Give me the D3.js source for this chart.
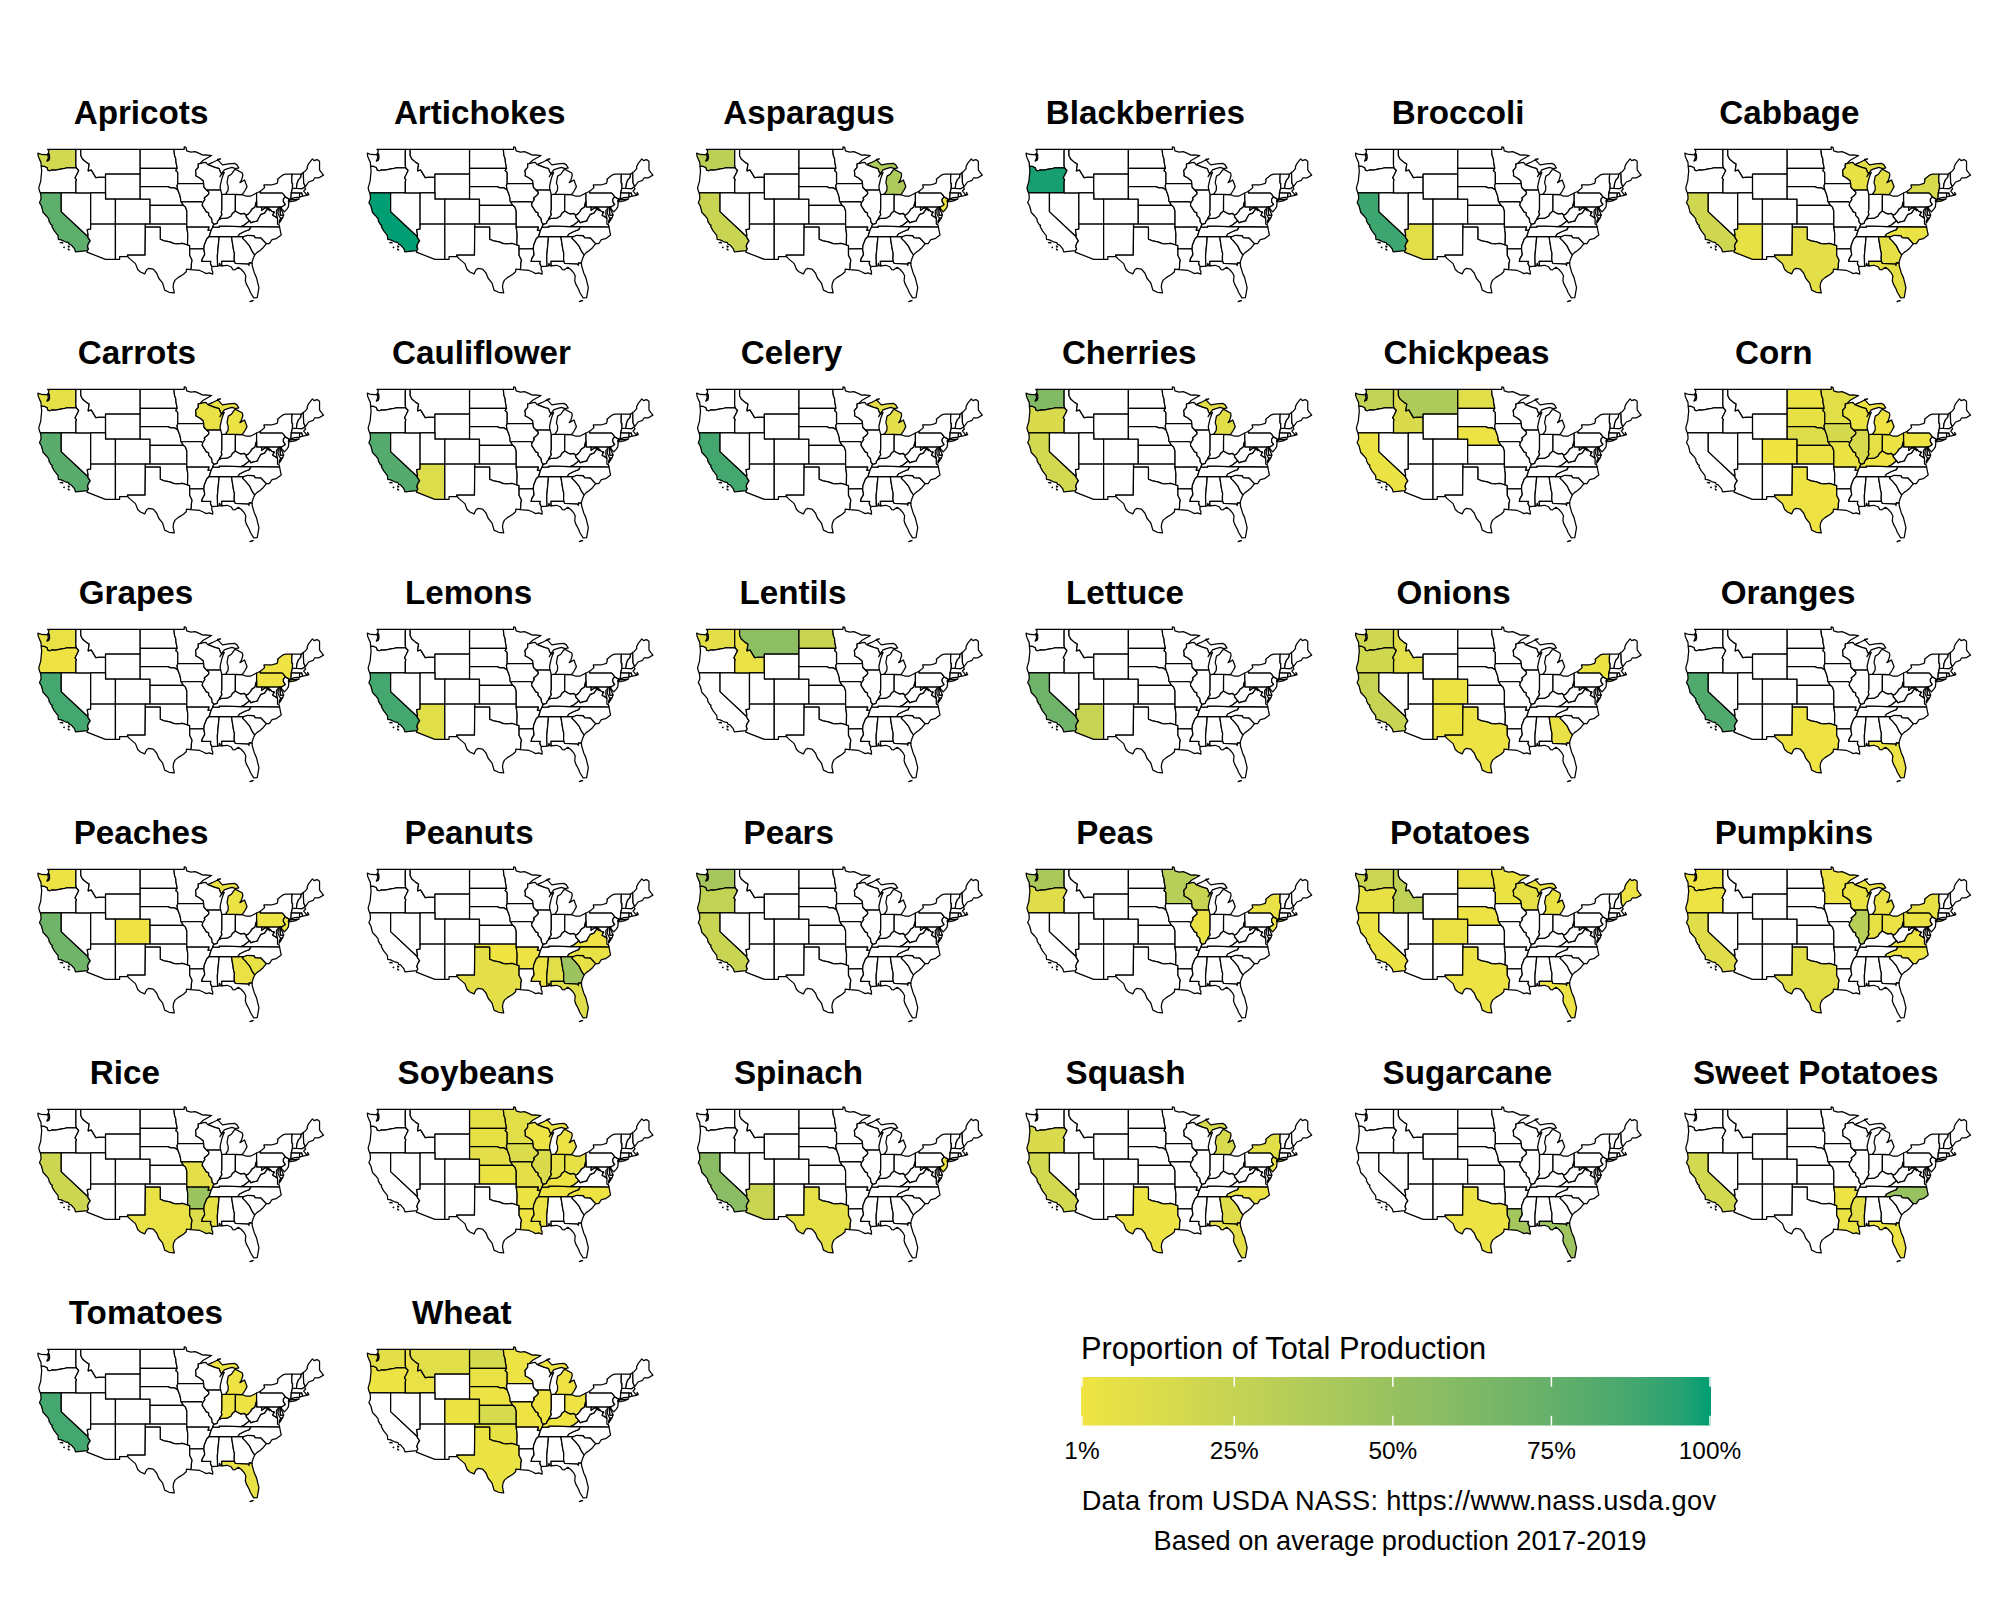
<!DOCTYPE html>
<html>
<head>
<meta charset="utf-8">
<script src="https://cdn.jsdelivr.net/npm/d3@7"></script>
<style>
  html, body { margin: 0; background: #fff; }
  text { font-family: "Liberation Sans", Arial, sans-serif; fill: #000; }
</style>
</head>
<body>
<svg id="chart" width="2000" height="1600"></svg>
<script>
// share of national production per crop (percent)
const apricots = [["CA", 78], ["WA", 18]];
const artichokes = [["CA", 100]];
const asparagus = [["WA", 30], ["CA", 23], ["MI", 38], ["NJ", 3]];
const blackberries = [["OR", 98]];
const broccoli = [["CA", 90], ["AZ", 9]];
const cabbage = [["CA", 20], ["AZ", 6], ["TX", 8], ["WI", 6], ["MI", 8], ["NY", 15], ["NC", 4], ["GA", 7], ["FL", 7]];
const carrots = [["CA", 80], ["WA", 7], ["WI", 5], ["MI", 4]];
const cauliflower = [["CA", 82], ["AZ", 12]];
const celery = [["CA", 88], ["MI", 8]];
const cherries = [["WA", 62], ["OR", 14], ["CA", 18], ["MI", 9]];
const chickpeas = [["WA", 27], ["MT", 38], ["ID", 14], ["ND", 10], ["NE", 3], ["CA", 4]];
const corn = [["IA", 17], ["IL", 15], ["NE", 12], ["MN", 9], ["IN", 7], ["SD", 6], ["KS", 5], ["OH", 4], ["WI", 4], ["MO", 4], ["ND", 4], ["MI", 2], ["KY", 2], ["TX", 2], ["CO", 1], ["PA", 2]];
const grapes = [["CA", 88], ["WA", 5], ["OR", 2], ["NY", 2], ["PA", 2]];
const lemons = [["CA", 88], ["AZ", 10]];
const lentils = [["MT", 55], ["ND", 24], ["WA", 8], ["ID", 5]];
const lettuce = [["CA", 71], ["AZ", 25]];
const onions = [["WA", 20], ["OR", 19], ["ID", 10], ["CA", 25], ["NY", 4], ["CO", 3], ["NM", 4], ["TX", 3], ["GA", 5]];
const oranges = [["CA", 83], ["TX", 2], ["FL", 3]];
const peaches = [["CA", 70], ["WA", 3], ["CO", 2], ["MI", 4], ["PA", 3], ["NJ", 4], ["GA", 5], ["SC", 6]];
const peanuts = [["GA", 48], ["FL", 11], ["AL", 10], ["TX", 8], ["SC", 6], ["NC", 6], ["MS", 3], ["AR", 3], ["OK", 1], ["VA", 2]];
const pears = [["WA", 42], ["OR", 27], ["CA", 24]];
const peas = [["WA", 40], ["MN", 33], ["WI", 24], ["OR", 11], ["IL", 5], ["NY", 5], ["NJ", 3]];
const potatoes = [["ID", 29], ["WA", 22], ["OR", 6], ["ND", 5], ["WI", 7], ["MI", 4], ["MN", 4], ["CA", 4], ["CO", 5], ["TX", 3], ["NE", 3], ["FL", 3], ["ME", 3]];
const pumpkins = [["IL", 33], ["CA", 11], ["TX", 9], ["IN", 6], ["OH", 5], ["MI", 5], ["WI", 4], ["PA", 4], ["NY", 6], ["VA", 3], ["NC", 3], ["OR", 3], ["WA", 3], ["MN", 3]];
const rice = [["AR", 48], ["CA", 21], ["LA", 12], ["MO", 8], ["MS", 6], ["TX", 5]];
const soybeans = [["IL", 14], ["IA", 13], ["MN", 9], ["IN", 7], ["NE", 8], ["MO", 8], ["ND", 7], ["SD", 6], ["OH", 6], ["KS", 4], ["AR", 4], ["MS", 3], ["MI", 3], ["WI", 3], ["KY", 2], ["TN", 2], ["NC", 2], ["LA", 2]];
const spinach = [["CA", 58], ["AZ", 24], ["TX", 7], ["NJ", 3]];
const squash = [["CA", 18], ["OR", 14], ["MI", 15], ["NY", 9], ["GA", 11], ["FL", 8], ["TX", 3], ["NC", 5], ["NJ", 5]];
const sugarcane = [["FL", 47], ["LA", 44], ["TX", 3]];
const sweetPotatoes = [["NC", 50], ["CA", 18], ["MS", 8], ["LA", 4], ["AR", 3], ["FL", 3]];
const tomatoes = [["CA", 88], ["FL", 5], ["IN", 3], ["OH", 3], ["MI", 2]];
const wheat = [["ND", 17], ["KS", 16], ["MT", 10], ["WA", 8], ["OK", 6], ["SD", 5], ["ID", 5], ["TX", 4], ["CO", 4], ["NE", 3], ["OR", 3], ["MN", 3], ["IL", 2], ["MO", 2], ["MI", 2], ["OH", 2], ["KY", 1]];

const cropNames = ["Apricots", "Artichokes", "Asparagus", "Blackberries", "Broccoli", "Cabbage", "Carrots", "Cauliflower", "Celery", "Cherries", "Chickpeas", "Corn", "Grapes", "Lemons", "Lentils", "Lettuce", "Onions", "Oranges", "Peaches", "Peanuts", "Pears", "Peas", "Potatoes", "Pumpkins", "Rice", "Soybeans", "Spinach", "Squash", "Sugarcane", "Sweet Potatoes", "Tomatoes", "Wheat"];
const cropShares = [apricots, artichokes, asparagus, blackberries, broccoli, cabbage, carrots, cauliflower, celery, cherries, chickpeas, corn, grapes, lemons, lentils, lettuce, onions, oranges, peaches, peanuts, pears, peas, potatoes, pumpkins, rice, soybeans, spinach, squash, sugarcane, sweetPotatoes, tomatoes, wheat];

const legendTicks = [1, 25, 50, 75, 100];
const legendLabels = ["1%", "25%", "50%", "75%", "100%"];

// state borders as shared lon/lat arcs, so neighbouring states always agree
const arcs = {
  wa_n: [[-122.76,49],[-117.03,49]],
  wa_id: [[-117.03,49],[-117.04,46.42],[-116.92,46]],
  wa_or: [[-124.05,46.27],[-123.5,46.27],[-123.2,46.15],[-122.9,46.08],[-122.8,45.85],[-122.75,45.65],[-122.3,45.55],[-121.9,45.68],[-121.2,45.65],[-120.65,45.73],[-119.9,45.84],[-119.3,45.93],[-118.98,46],[-116.92,46]],
  wa_coast: [[-124.05,46.27],[-124.1,46.9],[-124.35,47.3],[-124.65,47.9],[-124.72,48.38],[-124,48.17],[-123.2,48.15],[-122.7,48.1],[-122.6,47.6],[-122.9,47.1],[-122.5,47.25],[-122.35,47.6],[-122.4,48.2],[-122.6,48.4],[-122.5,48.75],[-122.76,49]],
  or_coast: [[-124.05,46.27],[-123.95,45.5],[-124.07,44.6],[-124.15,43.9],[-124.4,43.2],[-124.55,42.84],[-124.4,42.3],[-124.21,42]],
  or_s: [[-124.21,42],[-120,42]],
  or_nv: [[-120,42],[-117.03,42]],
  or_id: [[-116.92,46],[-116.46,45.6],[-116.85,44.95],[-117.2,44.43],[-117.03,44.25],[-116.93,44.1],[-117.03,43.83],[-117.03,42]],
  ca_coast: [[-124.21,42],[-124.1,41.5],[-124.1,41],[-124.4,40.44],[-124,39.9],[-123.8,39.3],[-123.7,38.9],[-123,38.3],[-122.5,37.8],[-122.5,37.5],[-122.1,36.95],[-121.8,36.8],[-121.9,36.6],[-121.4,35.9],[-120.65,35.15],[-120.6,34.55],[-120,34.45],[-119.2,34.15],[-118.5,34.03],[-118.4,33.75],[-118,33.65],[-117.3,33],[-117.12,32.53]],
  ca_s: [[-117.12,32.53],[-114.72,32.72]],
  ca_az: [[-114.72,32.72],[-114.5,33],[-114.7,33.4],[-114.5,33.9],[-114.14,34.3],[-114.6,34.87],[-114.63,35]],
  ca_nv: [[-114.63,35],[-120,39],[-120,42]],
  id_nv: [[-117.03,42],[-114.05,42]],
  ut_nv: [[-114.05,42],[-114.05,37]],
  az_nv: [[-114.05,37],[-114.05,36.2],[-114.74,36.1],[-114.57,35.2],[-114.63,35]],
  id_n: [[-117.03,49],[-116.05,49]],
  id_mt: [[-116.05,49],[-116.05,48],[-115.7,47.45],[-114.9,46.9],[-114.35,46.65],[-114.55,45.55],[-113.95,45.7],[-113.45,45.05],[-113,44.45],[-112.3,44.55],[-111.5,44.55],[-111.05,44.5]],
  id_wy: [[-111.05,44.5],[-111.05,42]],
  id_ut: [[-111.05,42],[-114.05,42]],
  mt_n: [[-116.05,49],[-104.05,49]],
  mt_nd: [[-104.05,49],[-104.05,45.94]],
  mt_sd: [[-104.05,45.94],[-104.05,45]],
  mt_wy: [[-104.05,45],[-111.05,45],[-111.05,44.5]],
  wy_sd: [[-104.05,45],[-104.05,43]],
  wy_ne: [[-104.05,43],[-104.05,41]],
  wy_co: [[-104.05,41],[-109.05,41]],
  wy_ut: [[-109.05,41],[-111.05,41],[-111.05,42]],
  ut_az: [[-114.05,37],[-109.05,37]],
  ut_co: [[-109.05,37],[-109.05,41]],
  az_nm: [[-109.05,37],[-109.05,31.33]],
  az_s: [[-109.05,31.33],[-111.07,31.33],[-114.81,32.5],[-114.72,32.72]],
  co_ne: [[-104.05,41],[-102.05,41],[-102.05,40]],
  co_ks: [[-102.05,40],[-102.05,37]],
  co_ok: [[-102.05,37],[-103,37]],
  co_nm: [[-103,37],[-109.05,37]],
  nm_ok: [[-103,37],[-103,36.5]],
  nm_tx: [[-103,36.5],[-103.06,32],[-106.62,32],[-106.53,31.78]],
  nm_s: [[-106.53,31.78],[-108.2,31.78],[-108.2,31.33],[-109.05,31.33]],
  nd_n: [[-104.05,49],[-97.23,49]],
  nd_mn: [[-97.23,49],[-97.1,48],[-96.85,47.5],[-96.8,46.9],[-96.56,45.94]],
  nd_sd: [[-96.56,45.94],[-104.05,45.94]],
  sd_mn: [[-96.56,45.94],[-96.85,45.6],[-96.45,45.3],[-96.45,43.5]],
  sd_ia: [[-96.45,43.5],[-96.6,43.1],[-96.45,42.49]],
  sd_ne: [[-96.45,42.49],[-96.7,42.6],[-97.2,42.85],[-97.9,42.8],[-98.5,43],[-104.05,43]],
  ne_ia: [[-96.45,42.49],[-96.1,41.8],[-95.9,41.2],[-95.85,40.7],[-95.77,40.58]],
  ne_mo: [[-95.77,40.58],[-95.3,40]],
  ne_ks: [[-95.3,40],[-102.05,40]],
  ks_mo: [[-95.3,40],[-94.9,39.75],[-94.62,39.1],[-94.62,37]],
  ks_ok: [[-94.62,37],[-102.05,37]],
  ok_mo: [[-94.62,37],[-94.62,36.5]],
  ok_ar: [[-94.62,36.5],[-94.43,35.4],[-94.48,33.64]],
  ok_tx: [[-94.48,33.64],[-95.5,33.9],[-96.5,33.8],[-97.2,33.85],[-98.1,34.13],[-99.2,34.3],[-100,34.56],[-100,36.5],[-103,36.5]],
  tx_ar: [[-94.48,33.64],[-94.04,33.55],[-94.04,33.02]],
  tx_la: [[-94.04,33.02],[-94.04,32],[-93.55,31.2],[-93.7,30.6],[-93.7,30],[-93.84,29.7]],
  tx_coast: [[-93.84,29.7],[-94.7,29.75],[-94.75,29.35],[-95.3,28.95],[-96.4,28.4],[-97,28],[-97.3,27.5],[-97.4,26.9],[-97.15,25.96],[-98.2,26.05],[-99.1,26.4],[-99.5,27.5],[-100.3,28.3],[-100.7,29.1],[-101.4,29.77],[-102.3,29.88],[-102.7,29.7],[-103.15,29],[-104,29.3],[-104.55,29.7],[-105,30.65],[-106.2,31.45],[-106.53,31.78]],
  mn_n: [[-97.23,49],[-95.15,49],[-95.15,49.38],[-94.8,49.3],[-94.65,48.75],[-93.8,48.55],[-92.95,48.62],[-92,48.3],[-91.4,48.07],[-90.75,48.1],[-89.6,48],[-90.5,47.6],[-91.3,47.25],[-92,46.7]],
  mn_wi: [[-92,46.7],[-92.3,46.65],[-92.3,46.1],[-92.85,45.6],[-92.75,45],[-92.8,44.75],[-92,44.4],[-91.3,43.95],[-91.22,43.5]],
  ia_mn: [[-96.45,43.5],[-91.22,43.5]],
  ia_wi: [[-91.22,43.5],[-91.15,42.9],[-90.65,42.5]],
  ia_il: [[-90.65,42.5],[-90.15,42.1],[-90.2,41.8],[-90.6,41.5],[-91.1,41.2],[-90.95,40.95],[-91.42,40.38]],
  ia_mo: [[-91.42,40.38],[-91.7,40.6],[-95.77,40.58]],
  il_mo: [[-91.42,40.38],[-91.5,40],[-91,39.4],[-90.7,39],[-90.2,38.8],[-90.2,38.4],[-89.6,37.9],[-89.5,37.3],[-89.15,37]],
  mo_ky: [[-89.15,37],[-89.4,36.5]],
  mo_tn: [[-89.4,36.5],[-89.7,36]],
  mo_ar: [[-89.7,36],[-90.37,36],[-90.15,36.5],[-94.62,36.5]],
  ar_tn: [[-89.7,36],[-90.1,35]],
  ar_ms: [[-90.1,35],[-90.6,34.6],[-91.1,33.6],[-91.17,33]],
  ar_la: [[-91.17,33],[-94.04,33.02]],
  la_ms: [[-91.17,33],[-91.1,32.6],[-91,32.1],[-91.5,31.4],[-91.6,31],[-89.75,31],[-89.85,30.65],[-89.55,30.18]],
  la_coast: [[-89.55,30.18],[-89.6,29.7],[-89.4,29.4],[-89.4,28.95],[-90.1,29.15],[-90.7,29.05],[-91.3,29.3],[-92,29.55],[-92.6,29.6],[-93.84,29.7]],
  ms_tn: [[-90.1,35],[-88.2,35]],
  ms_al: [[-88.2,35],[-88.1,34.9],[-88.45,31.9],[-88.4,30.25]],
  ms_coast: [[-88.4,30.25],[-89.55,30.18]],
  al_tn: [[-88.2,35],[-85.6,34.98]],
  al_ga: [[-85.6,34.98],[-85.18,32.85],[-85,32.3],[-85.05,31.5],[-85,31]],
  al_fl: [[-85,31],[-87.6,31],[-87.52,30.28]],
  al_coast: [[-87.52,30.28],[-87.8,30.3],[-88,30.7],[-88.1,30.3],[-88.4,30.25]],
  ga_tn: [[-85.6,34.98],[-84.32,34.99]],
  ga_nc: [[-84.32,34.99],[-83.11,35]],
  ga_sc: [[-83.11,35],[-83.35,34.7],[-82.8,34.3],[-81.95,33.5],[-81.4,32.6],[-80.9,32.05]],
  ga_coast: [[-80.9,32.05],[-81.15,31.6],[-81.4,31],[-81.45,30.72]],
  ga_fl: [[-85,31],[-84.86,30.7],[-82.2,30.57],[-82.05,30.35],[-82,30.75],[-81.45,30.72]],
  fl_coast: [[-81.45,30.72],[-81.4,30.3],[-81,29.2],[-80.55,28.4],[-80.05,26.8],[-80.4,25.2],[-81.1,25.15],[-81.8,26.05],[-82,26.5],[-82.6,27.4],[-82.8,27.9],[-82.7,28.7],[-83,29.15],[-83.6,29.7],[-84.2,30.05],[-84.9,29.65],[-85.3,29.68],[-85.7,30.15],[-86.5,30.38],[-87.52,30.28]],
  sc_nc: [[-83.11,35],[-82.4,35.2],[-81.05,35.15],[-80.8,34.82],[-79.67,34.8],[-78.55,33.86]],
  sc_coast: [[-78.55,33.86],[-79.2,33.2],[-79.9,32.7],[-80.4,32.45],[-80.9,32.05]],
  tn_nc: [[-84.32,34.99],[-84,35.4],[-83,35.8],[-82,36.1],[-81.68,36.59]],
  nc_va: [[-81.68,36.59],[-75.87,36.55]],
  nc_coast: [[-75.87,36.55],[-75.75,36],[-75.55,35.25],[-76.55,34.65],[-77.4,34.5],[-77.95,33.87],[-78.55,33.86]],
  ky_tn: [[-89.4,36.5],[-88.05,36.5],[-88.07,36.68],[-86.5,36.65],[-83.68,36.6]],
  tn_va: [[-83.68,36.6],[-81.68,36.59]],
  il_ky: [[-88.05,37.8],[-88.45,37.4],[-88.5,37.1],[-89.15,37]],
  in_ky: [[-84.82,39.1],[-85.4,38.75],[-85.7,38.3],[-86.3,38],[-87,37.9],[-87.6,37.9],[-88.05,37.8]],
  oh_ky: [[-84.82,39.1],[-84.2,38.8],[-83.7,38.63],[-83,38.73],[-82.6,38.42]],
  wv_ky: [[-81.97,37.54],[-82.6,38.17],[-82.6,38.42]],
  ky_va: [[-83.68,36.6],[-83,36.85],[-82.3,37.3],[-81.97,37.54]],
  il_wi: [[-90.65,42.5],[-87.8,42.5]],
  il_lake: [[-87.8,42.5],[-87.53,41.72]],
  il_in: [[-87.53,41.72],[-87.53,39.35],[-87.65,38.9],[-87.5,38.5],[-87.95,38],[-88.05,37.8]],
  in_lake: [[-87.53,41.72],[-87.2,41.75],[-86.82,41.76]],
  in_mi: [[-86.82,41.76],[-84.8,41.76]],
  in_oh: [[-84.8,41.76],[-84.82,39.1]],
  oh_mi: [[-84.8,41.76],[-83.45,41.73]],
  oh_lake: [[-83.45,41.73],[-82.7,41.5],[-81.7,41.5],[-80.52,41.98]],
  oh_pa: [[-80.52,41.98],[-80.52,40.64]],
  oh_wv: [[-80.52,40.64],[-80.65,40.4],[-80.85,39.7],[-81.45,39.4],[-81.75,39],[-82.2,38.6],[-82.6,38.42]],
  mi_coast: [[-86.82,41.76],[-86.3,42.4],[-86.25,43],[-86.5,43.65],[-86.25,44.7],[-85.6,45],[-85,45.7],[-84.75,45.78],[-83.4,45.2],[-83.3,44.8],[-83.6,44],[-83.9,43.65],[-82.95,44.07],[-82.45,43],[-82.9,42.35],[-83.15,42.05],[-83.45,41.73]],
  wi_s: [[-92,46.7],[-91.2,46.87],[-90.75,46.9],[-90.4,46.55]],
  wi_mi: [[-90.4,46.55],[-89.1,46.13],[-88.1,45.9],[-87.85,45.35],[-87.6,45.1]],
  wi_lake: [[-87.6,45.1],[-87.95,44.6],[-87.7,44.9],[-87.05,45.3],[-87.5,44.4],[-87.7,43.75],[-87.9,43],[-87.8,42.5]],
  mi_up: [[-87.6,45.1],[-87.05,45.7],[-86.5,45.85],[-85.5,46.1],[-84.75,45.9],[-84.1,46],[-84.5,46.5],[-85,46.75],[-86.2,46.65],[-87.4,46.5],[-87.9,46.9],[-88.4,47.4],[-87.8,47.47],[-88.6,47.2],[-89.5,46.85],[-90.4,46.55]],
  pa_lake: [[-80.52,41.98],[-79.76,42.27]],
  pa_ny: [[-79.76,42.27],[-79.76,42],[-75.35,42],[-75.05,41.75],[-74.7,41.36]],
  pa_nj: [[-74.7,41.36],[-75.1,41],[-75.1,40.6],[-74.72,40.15],[-75.1,39.9],[-75.42,39.81]],
  pa_de: [[-75.42,39.81],[-75.79,39.72]],
  pa_md: [[-75.79,39.72],[-79.48,39.72]],
  pa_wv: [[-79.48,39.72],[-80.52,39.72],[-80.52,40.64]],
  wv_md: [[-79.48,39.72],[-79.48,39.2],[-78.8,39.6],[-78.3,39.62],[-77.72,39.32]],
  wv_va: [[-77.72,39.32],[-77.83,39.13],[-78.35,39.4],[-78.9,38.75],[-79.7,38.5],[-80.3,37.65],[-80.3,37.5],[-81.3,37.3],[-81.68,37.2],[-81.97,37.54]],
  va_md: [[-76.3,37.95],[-76.95,38.3],[-77.25,38.4],[-77.04,38.79],[-77.12,38.93],[-77.5,39.1],[-77.72,39.32]],
  va_coast: [[-75.87,36.55],[-76,36.92],[-76.3,37],[-76.3,37.55],[-76.3,37.95]],
  de_md: [[-75.79,39.72],[-75.7,38.45],[-75.05,38.45]],
  md_bay: [[-75.05,38.45],[-75.25,38.03],[-75.65,37.95],[-75.9,38.2],[-76.2,38.7],[-76.15,39.2],[-76.1,39.55],[-76.5,39.2],[-76.5,38.5],[-76.35,38.1],[-76.3,37.95]],
  de_coast: [[-75.05,38.45],[-75.4,39.1],[-75.55,39.5],[-75.42,39.81]],
  nj_ny: [[-74.7,41.36],[-73.9,41],[-74.1,40.65]],
  nj_coast: [[-74.1,40.65],[-74,40.45],[-74.1,39.75],[-74.4,39.4],[-74.9,38.95],[-75.3,39.3],[-75.5,39.5],[-75.42,39.81]],
  ny_lake: [[-79.76,42.27],[-78.9,42.85],[-79.05,43.27],[-77.5,43.27],[-76.4,43.52],[-76.2,44],[-76.3,44.2],[-75.3,44.85],[-74.7,45],[-73.35,45.01]],
  ny_vt: [[-73.35,45.01],[-73.4,44.5],[-73.4,43.6],[-73.25,43.55],[-73.27,42.75]],
  ny_ma: [[-73.27,42.75],[-73.5,42.05]],
  ny_ct: [[-73.5,42.05],[-73.55,41.3],[-73.65,41]],
  ny_s: [[-73.65,41],[-73.9,40.8],[-74.1,40.65]],
  ct_ma: [[-73.5,42.05],[-71.8,42.02]],
  ct_ri: [[-71.8,42.02],[-71.85,41.32]],
  ct_coast: [[-71.85,41.32],[-72.9,41.25],[-73.65,41]],
  ri_ma: [[-71.8,42.02],[-71.38,42.02],[-71.2,41.5]],
  ri_coast: [[-71.2,41.5],[-71.85,41.32]],
  ma_vt: [[-73.27,42.75],[-72.46,42.73]],
  ma_nh: [[-72.46,42.73],[-71.3,42.7],[-71,42.87],[-70.82,42.87]],
  ma_coast: [[-70.82,42.87],[-70.6,42.65],[-71,42.3],[-70.65,41.95],[-70.5,41.78],[-70,41.8],[-70.2,42.07],[-69.95,41.7],[-70.6,41.55],[-71.15,41.5],[-71.2,41.5]],
  vt_can: [[-73.35,45.01],[-71.5,45.01]],
  vt_nh: [[-71.5,45.01],[-71.6,44.5],[-72.05,44.1],[-72.35,43.5],[-72.46,42.73]],
  nh_n: [[-71.5,45.01],[-71.08,45.3]],
  nh_me: [[-71.08,45.3],[-71,43.6],[-70.7,43.07]],
  nh_coast: [[-70.7,43.07],[-70.82,42.87]],
  me_out: [[-71.08,45.3],[-70.8,45.4],[-70.25,45.95],[-70.3,46.2],[-70,46.7],[-69.23,47.46],[-68.9,47.18],[-68.3,47.35],[-67.8,47.07],[-67.8,45.7],[-67.45,45.3],[-67,44.85],[-68,44.4],[-68.8,44.4],[-69.1,44],[-70,43.75],[-70.6,43.1],[-70.7,43.07]]
};

// islands that belong to a state but share no border
const islands = {
  CA: [[[-120.2,34],[-119.9,34.05],[-119.7,33.97]], [[-119.5,33.25],[-119.4,33.3],[-119.4,33.2]], [[-118.6,33.45],[-118.35,33.35],[-118.5,33.3]], [[-118.6,33],[-118.35,32.85],[-118.5,32.85]]],
  FL: [[[-81.85,24.55],[-81.2,24.7],[-81.6,24.65]]],
  MI: [[[-90.4,46.55],[-89.1,46.13],[-88.1,45.9],[-87.85,45.35],[-87.6,45.1]].concat(arcs.mi_up.slice(1, -1))],
  NY: [[[-74.03,40.6],[-73.6,40.58],[-72.8,40.72],[-71.9,41.05],[-72.6,40.98],[-73.2,40.92],[-73.75,40.83]]],
  VA: [[[-75.65,37.95],[-75.25,38.03],[-75.95,37.15],[-75.95,37.5]]],
  WA: [[[-122.75,48.3],[-122.5,48.1],[-122.55,48.3]]]
};

// "-name" means the arc runs backwards in this ring
const stateRings = {
  WA: ["wa_n","wa_id","-wa_or","wa_coast"],
  OR: ["wa_or","or_id","-or_nv","-or_s","-or_coast"],
  CA: ["ca_coast","ca_s","ca_az","ca_nv","-or_s"],
  NV: ["ca_nv","or_nv","id_nv","ut_nv","az_nv"],
  ID: ["id_n","id_mt","id_wy","id_ut","-id_nv","-or_id","-wa_id"],
  MT: ["mt_n","mt_nd","mt_sd","mt_wy","-id_mt"],
  WY: ["-mt_wy","wy_sd","wy_ne","wy_co","wy_ut","-id_wy"],
  UT: ["id_ut","ut_nv","ut_az","ut_co","wy_ut"],
  AZ: ["ut_az","az_nm","az_s","ca_az","-az_nv"],
  CO: ["-wy_co","co_ne","co_ks","co_ok","co_nm","-ut_co"],
  NM: ["-co_nm","nm_ok","nm_tx","nm_s","-az_nm"],
  ND: ["nd_n","nd_mn","nd_sd","-mt_nd"],
  SD: ["-nd_sd","sd_mn","sd_ia","sd_ne","-wy_sd","-mt_sd"],
  NE: ["-sd_ne","ne_ia","ne_mo","ne_ks","-co_ne","-wy_ne"],
  KS: ["-ne_ks","ks_mo","ks_ok","-co_ks"],
  OK: ["-ks_ok","ok_mo","ok_ar","ok_tx","-nm_ok","-co_ok"],
  TX: ["-ok_tx","tx_ar","tx_la","tx_coast","-nm_tx"],
  MN: ["mn_n","mn_wi","-ia_mn","-sd_mn","-nd_mn"],
  IA: ["ia_mn","ia_wi","ia_il","ia_mo","-ne_ia","-sd_ia"],
  MO: ["-ia_mo","il_mo","mo_ky","mo_tn","mo_ar","-ok_mo","-ks_mo","-ne_mo"],
  AR: ["-mo_ar","ar_tn","ar_ms","ar_la","-tx_ar","-ok_ar"],
  LA: ["-ar_la","la_ms","la_coast","-tx_la"],
  MS: ["-ar_ms","ms_tn","ms_al","ms_coast","-la_ms"],
  AL: ["al_tn","al_ga","al_fl","al_coast","-ms_al"],
  GA: ["ga_tn","ga_nc","ga_sc","ga_coast","-ga_fl","-al_ga"],
  FL: ["ga_fl","fl_coast","-al_fl"],
  SC: ["sc_nc","sc_coast","-ga_sc"],
  NC: ["tn_nc","nc_va","nc_coast","-sc_nc","-ga_nc"],
  TN: ["ky_tn","tn_va","-tn_nc","-ga_tn","-al_tn","-ms_tn","-ar_tn","-mo_tn"],
  KY: ["-mo_ky","-il_ky","-in_ky","oh_ky","-wv_ky","-ky_va","-ky_tn"],
  IL: ["il_wi","il_lake","il_in","il_ky","-il_mo","-ia_il"],
  IN: ["in_lake","in_mi","in_oh","in_ky","-il_in"],
  OH: ["oh_mi","oh_lake","oh_pa","oh_wv","-oh_ky","-in_oh"],
  MI: ["mi_coast","-oh_mi","-in_mi"],
  WI: ["wi_s","wi_mi","wi_lake","-il_wi","-ia_wi","-mn_wi"],
  PA: ["pa_lake","pa_ny","pa_nj","pa_de","pa_md","pa_wv","-oh_pa"],
  WV: ["-pa_wv","wv_md","wv_va","wv_ky","-oh_wv"],
  VA: ["va_md","wv_va","-ky_va","tn_va","nc_va","va_coast"],
  MD: ["-wv_md","-pa_md","de_md","md_bay","va_md"],
  DE: ["de_md","de_coast","pa_de"],
  NJ: ["-pa_nj","nj_ny","nj_coast"],
  NY: ["ny_lake","ny_vt","ny_ma","ny_ct","ny_s","-nj_ny","-pa_ny"],
  CT: ["ct_ma","ct_ri","ct_coast","-ny_ct"],
  RI: ["ri_ma","ri_coast","-ct_ri"],
  MA: ["ma_vt","ma_nh","ma_coast","-ri_ma","-ct_ma","-ny_ma"],
  VT: ["vt_can","vt_nh","-ma_vt","-ny_vt"],
  NH: ["nh_n","nh_me","nh_coast","-ma_nh","-vt_nh"],
  ME: ["me_out","-nh_me"]
};
const dcRing = [[-77.04,38.79],[-76.91,38.89],[-77.04,39],[-77.12,38.93]];

function buildRing(parts) {
  let ring = [];
  parts.forEach(function (p) {
    const back = p[0] === "-";
    const pts = arcs[back ? p.slice(1) : p];
    ring = ring.concat(back ? pts.slice().reverse() : pts);
  });
  return ring;
}

const states = Object.keys(stateRings).map(function (id) {
  return { id: id, rings: [buildRing(stateRings[id])].concat(islands[id] || []) };
});
states.push({ id: "DC", rings: [dcRing] });

const mapWidth = 285.5, mapHeight = 149.5;
const x = d3.scaleLinear().domain([-124.7, -67]).range([0, mapWidth]);
const y = d3.scaleLinear().domain([49, 25]).range([0, mapHeight]);
const line = d3.line().x(function (d) { return x(d[0]); }).y(function (d) { return y(d[1]); }).curve(d3.curveLinearClosed);

const fillScale = d3.scaleLinear().domain([1, 100]).range(["#F0E442", "#009E73"]).interpolate(d3.interpolateLab);

const svg = d3.select("#chart");
svg.append("rect").attr("width", 2000).attr("height", 1600).attr("fill", "#fff");

const colX = d3.scaleLinear().domain([0, 5]).range([38, 1685]);
const rowY = d3.scaleLinear().domain([0, 5]).range([149.3, 1349.3]);

// one small map per crop
cropNames.forEach(function (name, i) {
  const shares = new Map(cropShares[i]);
  const panel = svg.append("g")
    .attr("transform", "translate(" + colX(i % 6) + "," + rowY(Math.floor(i / 6)) + ")");

  panel.selectAll("path")
    .data(states)
    .enter()
    .append("path")
    .attr("d", function (d) { return d.rings.map(line).join(""); })
    .attr("fill", function (d) { return shares.has(d.id) ? fillScale(shares.get(d.id)) : "#fff"; })
    .attr("stroke", "#000")
    .attr("stroke-width", 1.25)
    .attr("stroke-linejoin", "round");

  const title = panel.append("text")
    .attr("y", -25)
    .attr("font-size", 33.2)
    .attr("font-weight", "bold")
    .text(name);
  // title sits a quarter of the way across the panel
  title.attr("x", 0.25 * (mapWidth - title.node().getComputedTextLength()) - 2);
});

// legend
const legendX = d3.scaleLinear().domain([1, 100]).range([1082, 1710]);
const legendTop = 1377, legendHeight = 48.5, tickLen = 9.7;

const gradient = svg.append("defs").append("linearGradient").attr("id", "legendFill");
d3.range(0, 1.001, 0.05).forEach(function (t) {
  gradient.append("stop")
    .attr("offset", t)
    .attr("stop-color", fillScale(1 + t * 99));
});

svg.append("rect")
  .attr("x", legendX(1) - 1)
  .attr("y", legendTop)
  .attr("width", legendX(100) - legendX(1) + 2)
  .attr("height", legendHeight)
  .attr("fill", "url(#legendFill)");

legendTicks.forEach(function (t, i) {
  [legendTop, legendTop + legendHeight - tickLen].forEach(function (y0) {
    svg.append("line")
      .attr("x1", legendX(t)).attr("x2", legendX(t))
      .attr("y1", y0).attr("y2", y0 + tickLen)
      .attr("stroke", "#fff")
      .attr("stroke-width", 1.5);
  });
  svg.append("text")
    .attr("x", legendX(t))
    .attr("y", 1459)
    .attr("text-anchor", "middle")
    .attr("font-size", 24.4)
    .text(legendLabels[i]);
});

svg.append("text")
  .attr("x", 1081)
  .attr("y", 1359)
  .attr("font-size", 30.8)
  .text("Proportion of Total Production");

svg.append("text")
  .attr("x", 1399)
  .attr("y", 1510)
  .attr("text-anchor", "middle")
  .attr("font-size", 27.2)
  .attr("letter-spacing", 0.33)
  .text("Data from USDA NASS: https://www.nass.usda.gov");

svg.append("text")
  .attr("x", 1400)
  .attr("y", 1550)
  .attr("text-anchor", "middle")
  .attr("font-size", 27.2)
  .text("Based on average production 2017-2019");
</script>
</body>
</html>
